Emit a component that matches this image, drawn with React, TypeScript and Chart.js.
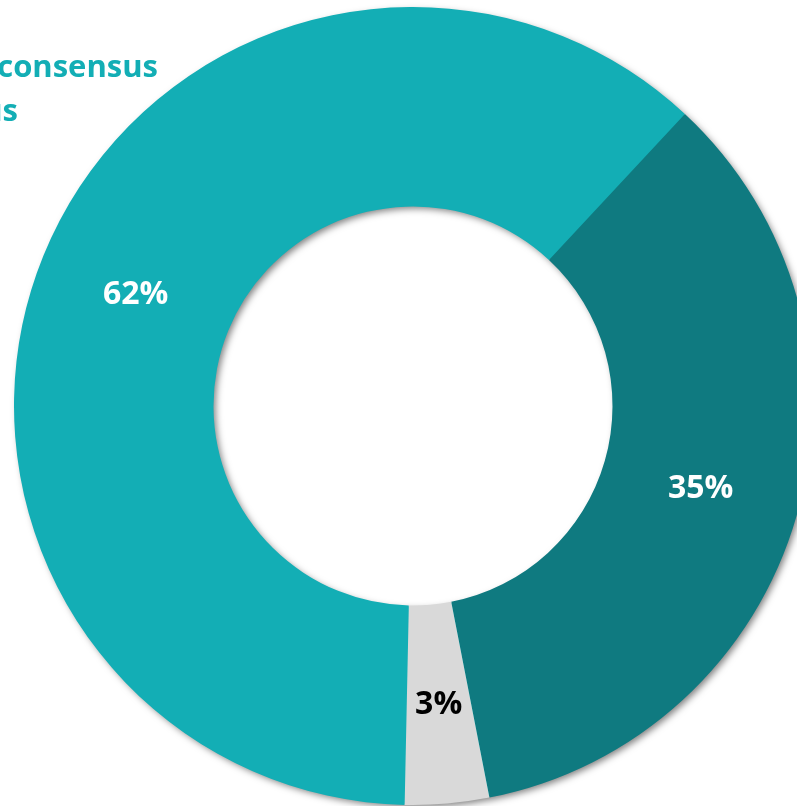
import React, { useEffect, useRef } from 'react';
import { Chart, registerables } from 'chart.js';

Chart.register(...registerables);

const categories = ['Strong consensus', 'Partial consensus', 'No consensus'];
const values = [61.6, 35.0, 3.4];
const sliceColors = ['#13AEB5', '#0F7A80', '#D9D9D9'];
const labelColors = ['#FFFFFF', '#FFFFFF', '#000000'];
const headerLines = ['Strong consensus', 'Consensus'];
const headerColor = '#13AEB5';

const shadowRing = {
  id: 'shadowRing',
  beforeDatasetsDraw(chart: any) {
    const meta = chart.getDatasetMeta(0);
    const arc = meta.data[0];
    if (!arc) return;
    const { x, y, innerRadius, outerRadius } = arc.getProps(['x', 'y', 'innerRadius', 'outerRadius'], true);
    const ctx = chart.ctx;
    ctx.save();
    ctx.shadowColor = 'rgba(0,0,0,0.5)';
    ctx.shadowBlur = 7;
    ctx.shadowOffsetX = 3;
    ctx.shadowOffsetY = 3;
    ctx.beginPath();
    ctx.arc(x, y, outerRadius - 1, 0, Math.PI * 2);
    ctx.moveTo(x + innerRadius + 1, y);
    ctx.arc(x, y, innerRadius + 1, 0, Math.PI * 2, true);
    ctx.closePath();
    ctx.fillStyle = sliceColors[0];
    ctx.fill();
    ctx.restore();
  },
};

const sliceLabels = {
  id: 'sliceLabels',
  afterDatasetsDraw(chart: any) {
    const meta = chart.getDatasetMeta(0);
    const ctx = chart.ctx;
    ctx.save();
    ctx.font = 'bold 32px "Open Sans"';
    ctx.textAlign = 'center';
    ctx.textBaseline = 'middle';
    meta.data.forEach((arc: any, i: number) => {
      const p = arc.getCenterPoint();
      ctx.fillStyle = labelColors[i];
      ctx.fillText(Math.round(values[i]) + '%', p.x, p.y + 1);
    });
    ctx.restore();
  },
};

const header = {
  id: 'header',
  afterDraw(chart: any) {
    const ctx = chart.ctx;
    ctx.save();
    ctx.font = 'bold 31px "Open Sans"';
    ctx.fillStyle = headerColor;
    ctx.textAlign = 'right';
    ctx.textBaseline = 'alphabetic';
    ctx.fillText(headerLines[0], 158, 77);
    ctx.fillText(headerLines[1], 18, 121);
    ctx.restore();
  },
};

export default function App() {
  const ref = useRef<HTMLCanvasElement | null>(null);
  useEffect(() => {
    if (!ref.current) return;
    const chart = new Chart(ref.current, {
      type: 'doughnut',
      data: {
        labels: categories,
        datasets: [
          {
            data: values,
            backgroundColor: sliceColors,
            borderWidth: 0,
          },
        ],
      },
      options: {
        responsive: false,
        animation: false,
        cutout: '50%',
        rotation: 181.2,
        layout: { padding: { left: 14, top: 7, right: 88, bottom: 7 } },
        plugins: {
          legend: { display: false },
          tooltip: { enabled: false },
        },
      },
      plugins: [shadowRing, sliceLabels, header],
    });
    return () => chart.destroy();
  }, []);
  return (
    <div style={{ position: 'fixed', left: 0, top: 0, width: 797, height: 806, overflow: 'hidden', background: '#fff' }}>
      <canvas ref={ref} width={900} height={812} style={{ width: 900, height: 812, display: 'block' }} />
    </div>
  );
}
